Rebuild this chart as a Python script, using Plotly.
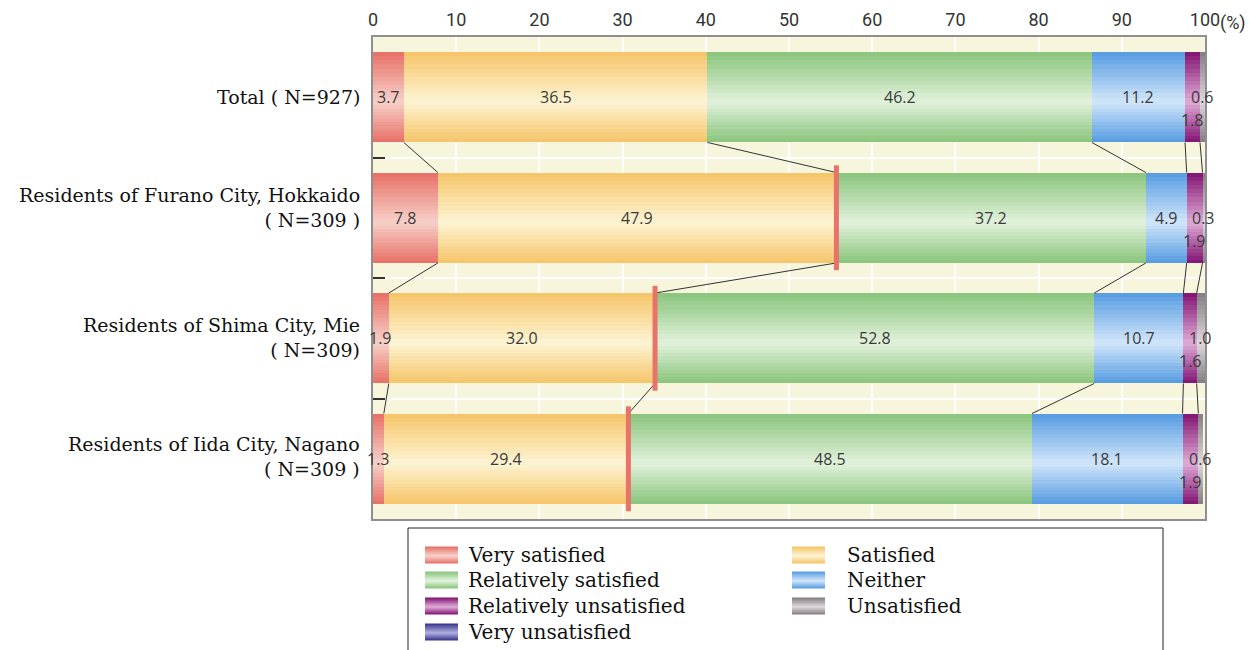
import plotly.graph_objects as go

# ---- data -------------------------------------------------------------
categories = [
    "Total ( N=927)",
    "Residents of Furano City, Hokkaido<br>( N=309 )",
    "Residents of Shima City, Mie<br>( N=309)",
    "Residents of Iida City, Nagano<br>( N=309 )",
]
responses = [
    "Very satisfied", "Satisfied", "Relatively satisfied", "Neither",
    "Relatively unsatisfied", "Unsatisfied", "Very unsatisfied",
]
very_satisfied = [3.7, 7.8, 1.9, 1.3]
satisfied = [36.5, 47.9, 32.0, 29.4]
relatively_satisfied = [46.2, 37.2, 52.8, 48.5]
neither = [11.2, 4.9, 10.7, 18.1]
relatively_unsatisfied = [1.8, 1.9, 1.6, 1.9]
unsatisfied = [0.6, 0.3, 1.0, 0.6]
very_unsatisfied = [0.0, 0.0, 0.0, 0.0]
x_tick_values = [0, 10, 20, 30, 40, 50, 60, 70, 80, 90, 100]
x_tick_labels = ["0", "10", "20", "30", "40", "50", "60", "70", "80", "90", "100"]

series = [very_satisfied, satisfied, relatively_satisfied, neither,
          relatively_unsatisfied, unsatisfied, very_unsatisfied]

# ---- styling ----------------------------------------------------------
# (edge colour, centre colour) for the shaded bars
palette = [
    ("#e8736a", "#f6cdc5"),
    ("#f6c66c", "#fdf2cf"),
    ("#8cc67f", "#def0d8"),
    ("#5a9ee2", "#cde3f9"),
    ("#861876", "#dca6d3"),
    ("#878086", "#dad5d8"),
    ("#3b3a8f", "#abaadd"),
]
SERIF = "DejaVu Serif, Liberation Serif, serif"
SANS = "Open Sans, Noto Sans, sans-serif"
AXIS_FONT = "Roboto, Open Sans, sans-serif"
BAR_W = 0.75
LAYERS = 12
LIGHT_AT = 0.55  # relative height of the brightest band
label_shift = [0, 10, 1, 2]  # vertical nudge of the row captions (px)


def mix(c1, c2, t):
    a = [int(c1[i:i + 2], 16) for i in (1, 3, 5)]
    b = [int(c2[i:i + 2], 16) for i in (1, 3, 5)]
    return "#" + "".join(f"{round(a[i] + (b[i] - a[i]) * t):02x}" for i in range(3))


rows = list(range(len(categories)))

# cumulative starting points of every segment
bases = []
running = [0.0] * len(rows)
for vals in series:
    bases.append(running[:])
    running = [running[r] + vals[r] for r in rows]

fig = go.Figure()

# shaded stacked bars: each segment is built from nested layers
for k in range(LAYERS):
    f = k / LAYERS
    width = BAR_W * (1 - f)
    offset = -BAR_W / 2 + f * BAR_W * LIGHT_AT
    for s, vals in enumerate(series):
        dark, light = palette[s]
        fig.add_trace(go.Bar(
            y=rows, x=vals, base=bases[s], orientation="h",
            width=width, offset=offset,
            marker=dict(color=mix(dark, light, k / (LAYERS - 1)), line=dict(width=0)),
            showlegend=False, hoverinfo="skip",
        ))

# connector lines between consecutive bars at every internal boundary
cx, cy = [], []
for r in rows[:-1]:
    for s in range(1, 6):
        cx += [bases[s][r], bases[s][r + 1], None]
        cy += [r + BAR_W / 2, r + 1 - BAR_W / 2, None]
fig.add_trace(go.Scatter(x=cx, y=cy, mode="lines",
                         line=dict(color="#333333", width=1),
                         showlegend=False, hoverinfo="skip"))

# red markers at the end of "Satisfied" for the three cities
mx, my = [], []
for r in rows[1:]:
    edge = bases[2][r]
    mx += [edge, edge, None]
    my += [r - 0.435, r + 0.435, None]
fig.add_trace(go.Scatter(x=mx, y=my, mode="lines",
                         line=dict(color="#e8736a", width=5),
                         showlegend=False, hoverinfo="skip"))

annotations = []
# value labels
for s, vals in enumerate(series):
    for r in rows:
        v = vals[r]
        if v <= 0:
            continue
        annotations.append(dict(
            x=bases[s][r] + v / 2, y=r, text=f"{v:.1f}", showarrow=False,
            xref="x", yref="y", yshift=-23 if s == 4 else 0,
            font=dict(family=SANS, size=16, color="#3a3a3a"),
        ))

# ---- positions in pixels --------------------------------------------
L, R, T, B = 373, 1205, 37, 519


def px(p):
    return (p - L) / (R - L)


def py(p):
    return (B - p) / (B - T)


# row captions, right-aligned next to the plot
for r, name in enumerate(categories):
    annotations.append(dict(
        x=px(362), y=r, xref="paper", yref="y", text=name, showarrow=False,
        xanchor="right", yanchor="middle", align="right",
        yshift=label_shift[r],
        font=dict(family=SERIF, size=19, color="#111111"),
    ))

# ---- legend drawn in paper coordinates -------------------------------
shapes = [dict(
    type="path", xref="paper", yref="paper",
    path=f"M {px(408)},{py(660)} L {px(408)},{py(528)} L {px(1163)},{py(528)} L {px(1163)},{py(660)}",
    line=dict(color="#222222", width=1),
)]

col_swatch = [425, 792]
col_text = [466, 845]
row_y = [555, 580, 606, 632]
SW_W, SW_H = 33, 17
SW_LAYERS = 8
for s, name in enumerate(responses):
    col, row = s % 2, s // 2
    x0 = col_swatch[col]
    yc = row_y[row]
    top, bot = yc - SW_H / 2, yc + SW_H / 2
    dark, light = palette[s]
    for k in range(SW_LAYERS):
        f = k / SW_LAYERS
        t0 = top + f * SW_H * LIGHT_AT
        b0 = bot - f * SW_H * (1 - LIGHT_AT)
        shapes.append(dict(
            type="rect", xref="paper", yref="paper",
            x0=px(x0), x1=px(x0 + SW_W), y0=py(b0), y1=py(t0),
            fillcolor=mix(dark, light, k / (SW_LAYERS - 1)), line=dict(width=0),
        ))
    annotations.append(dict(
        x=px(col_text[col]), y=py(yc), xref="paper", yref="paper",
        text=name, showarrow=False, xanchor="left", yanchor="middle",
        font=dict(family=SERIF, size=20, color="#111111"),
    ))

# percent unit next to the last tick label
annotations.append(dict(
    x=px(1218), y=py(23), xref="paper", yref="paper", text="(%)",
    showarrow=False, xanchor="left", yanchor="middle",
    font=dict(family=AXIS_FONT, size=18, color="#333333"),
))

fig.update_layout(
    width=1253, height=650,
    margin=dict(l=L, r=1253 - R, t=T, b=650 - B),
    paper_bgcolor="white", plot_bgcolor="#f8f5dd",
    barmode="overlay", bargap=0,
    shapes=shapes, annotations=annotations,
    xaxis=dict(
        range=[0, 100], side="top", tickmode="array",
        tickvals=x_tick_values, ticktext=x_tick_labels,
        tickfont=dict(family=AXIS_FONT, size=18, color="#333333"),
        ticks="", ticklabelstandoff=2, automargin=False,
        showgrid=True, gridcolor="white", gridwidth=2, zeroline=False,
        showline=True, linecolor="#8f8f8f", linewidth=2, mirror=True,
        fixedrange=True,
    ),
    yaxis=dict(
        range=[3.5, -0.5], tickmode="array", tickvals=rows,
        showticklabels=False, automargin=False,
        ticks="", showgrid=False, zeroline=False,
        showline=True, linecolor="#8f8f8f", linewidth=2, mirror=True,
        minor=dict(tickmode="array", tickvals=[0.5, 1.5, 2.5], ticks="inside",
                   ticklen=12, tickwidth=2, tickcolor="#333333",
                   showgrid=True, gridcolor="white", gridwidth=2),
        fixedrange=True,
    ),
)

fig.write_html("out.html")
